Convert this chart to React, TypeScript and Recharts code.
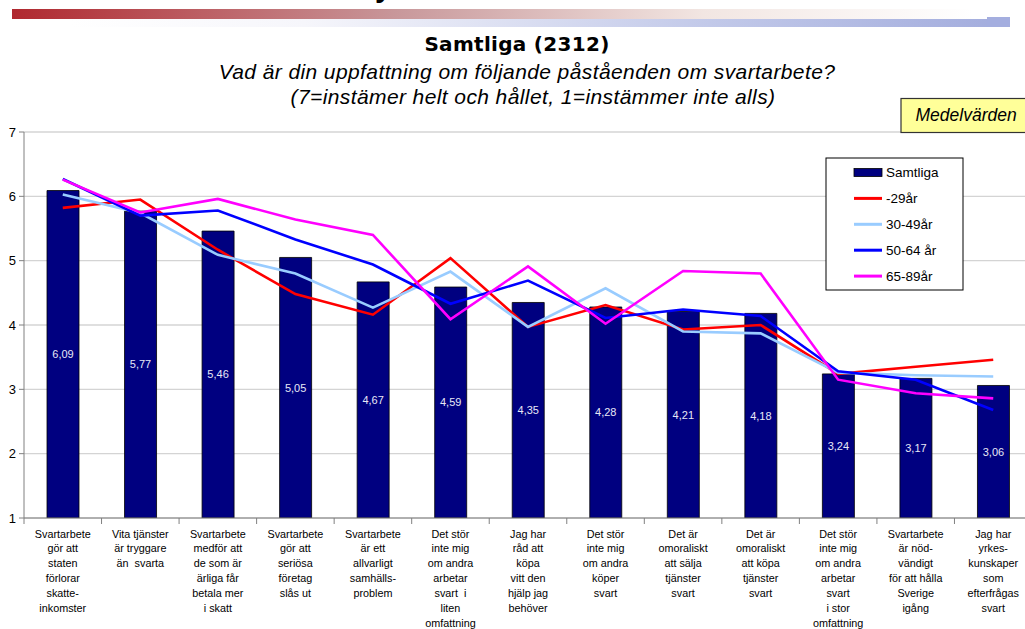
import React from 'react';
import { ComposedChart, Bar, Line, XAxis, YAxis, CartesianGrid, LabelList } from 'recharts';

// ---- data ----
const categories: string[] = [
  'Svartarbete\ngör att\nstaten\nförlorar\nskatte-\ninkomster',
  'Vita tjänster\när tryggare\nän  svarta',
  'Svartarbete\nmedför att\nde som är\närliga får\nbetala mer\ni skatt',
  'Svartarbete\ngör att\nseriösa\nföretag\nslås ut',
  'Svartarbete\när ett\nallvarligt\nsamhälls-\nproblem',
  'Det stör\ninte mig\nom andra\narbetar\nsvart  i\nliten\nomfattning',
  'Jag har\nråd att\nköpa\nvitt den\nhjälp jag\nbehöver',
  'Det stör\ninte mig\nom andra\nköper\nsvart',
  'Det är\nomoraliskt\natt sälja\ntjänster\nsvart',
  'Det är\nomoraliskt\natt köpa\ntjänster\nsvart',
  'Det stör\ninte mig\nom andra\narbetar\nsvart\ni stor\nomfattning',
  'Svartarbete\när nöd-\nvändigt\nför att hålla\nSverige\nigång',
  'Jag har\nyrkes-\nkunskaper\nsom\nefterfrågas\nsvart',
];
const samtliga: number[] = [6.09, 5.77, 5.46, 5.05, 4.67, 4.59, 4.35, 4.28, 4.21, 4.18, 3.24, 3.17, 3.06];
const age29: number[] = [5.82, 5.95, 5.17, 4.48, 4.16, 5.04, 3.97, 4.31, 3.93, 4.0, 3.24, 3.35, 3.46];
const age30_49: number[] = [6.03, 5.74, 5.09, 4.8, 4.27, 4.83, 3.97, 4.57, 3.9, 3.87, 3.26, 3.22, 3.2];
const age50_64: number[] = [6.27, 5.7, 5.78, 5.33, 4.94, 4.33, 4.69, 4.11, 4.24, 4.14, 3.28, 3.15, 2.68];
const age65_89: number[] = [6.26, 5.75, 5.96, 5.64, 5.4, 4.09, 4.91, 4.02, 4.84, 4.8, 3.15, 2.94, 2.86];
const yTicks: number[] = [1, 2, 3, 4, 5, 6, 7];

const seriesNames = ['Samtliga', '-29år', '30-49år', '50-64 år', '65-89år'];
const title = 'Samtliga (2312)';
const subtitle1 = 'Vad är din uppfattning om följande påståenden om svartarbete?';
const subtitle2 = '(7=instämer helt och hållet, 1=instämmer inte alls)';
const boxLabel = 'Medelvärden';

const data = categories.map((c, i) => ({
  cat: c,
  samtliga: samtliga[i],
  a29: age29[i],
  a30: age30_49[i],
  a50: age50_64[i],
  a65: age65_89[i],
}));

// ---- styles ----
const NAVY = '#000080';
const RED = '#FF0000';
const LBLUE = '#99CCFF';
const BLUE = '#0000FF';
const MAGENTA = '#FF00FF';
const AXIS = '#808080';
const GRID = '#D4D4D4';
const FONT = '"Liberation Sans", Arial, sans-serif';
const LINE_W = 2.6;

const XTick = (props: any) => {
  const { x, y, payload, index } = props;
  const off = payload && payload.offset ? payload.offset : 38.8;
  const lines = String(payload.value).split('\n');
  return (
    <g>
      <line x1={x - off} x2={x - off} y1={y} y2={y + 6} stroke={AXIS} strokeWidth={1} />
      {index === categories.length - 1 && (
        <line x1={x + off} x2={x + off} y1={y} y2={y + 6} stroke={AXIS} strokeWidth={1} />
      )}
      <text
        x={x}
        y={y + 19.5}
        textAnchor="middle"
        fontSize={10.8}
        fontFamily={FONT}
        fill="#000"
        style={{ whiteSpace: 'pre' }}
      >
        {lines.map((l, i) => (
          <tspan key={i} x={x} dy={i === 0 ? 0 : 14.9}>
            {l}
          </tspan>
        ))}
      </text>
    </g>
  );
};

const legendItems = [
  { name: seriesNames[0], color: NAVY, bar: true },
  { name: seriesNames[1], color: RED, bar: false },
  { name: seriesNames[2], color: LBLUE, bar: false },
  { name: seriesNames[3], color: BLUE, bar: false },
  { name: seriesNames[4], color: MAGENTA, bar: false },
];

export default function App() {
  return (
    <div
      style={{
        position: 'fixed',
        left: 0,
        top: 0,
        width: 1025,
        height: 629,
        overflow: 'hidden',
        background: '#fff',
        fontFamily: FONT,
      }}
    >
      <div style={{ position: 'absolute', left: 0, top: 0 }}>
        <ComposedChart
          width={1040}
          height={629}
          data={data}
          margin={{ top: 132, right: 8, bottom: 0, left: 0 }}
        >
          <CartesianGrid vertical={false} stroke={GRID} strokeWidth={1.3} />
          <XAxis
            dataKey="cat"
            interval={0}
            height={111}
            tickLine={false}
            tickSize={0}
            tickMargin={0}
            axisLine={{ stroke: AXIS, strokeWidth: 1 }}
            tick={<XTick />}
          />
          <YAxis
            domain={[1, 7]}
            ticks={yTicks}
            width={24}
            tickSize={5}
            tickMargin={3}
            axisLine={{ stroke: AXIS, strokeWidth: 1 }}
            tickLine={{ stroke: AXIS }}
            tick={{ fontSize: 13, fill: '#000', fontFamily: FONT }}
            interval={0}
            allowDataOverflow
          />
          <Bar
            dataKey="samtliga"
            name={seriesNames[0]}
            fill={NAVY}
            stroke="#000"
            strokeWidth={0.8}
            barSize={32}
            isAnimationActive={false}
          >
            <LabelList
              dataKey="samtliga"
              position="center"
              fill="#E8E8F6"
              fontSize={11}
              fontFamily={FONT}
              formatter={(v: any) => Number(v).toFixed(2).replace('.', ',')}
            />
          </Bar>
          <Line dataKey="a29" name={seriesNames[1]} stroke={RED} strokeWidth={LINE_W} dot={false} activeDot={false} type="linear" isAnimationActive={false} />
          <Line dataKey="a30" name={seriesNames[2]} stroke={LBLUE} strokeWidth={LINE_W} dot={false} activeDot={false} type="linear" isAnimationActive={false} />
          <Line dataKey="a50" name={seriesNames[3]} stroke={BLUE} strokeWidth={LINE_W} dot={false} activeDot={false} type="linear" isAnimationActive={false} />
          <Line dataKey="a65" name={seriesNames[4]} stroke={MAGENTA} strokeWidth={LINE_W} dot={false} activeDot={false} type="linear" isAnimationActive={false} />
        </ComposedChart>
      </div>
      <svg
        width={1025}
        height={629}
        style={{ position: 'absolute', left: 0, top: 0, pointerEvents: 'none' }}
      >
        <defs>
          <linearGradient id="gRed" x1="0" x2="1" y1="0" y2="0">
            <stop offset="0" stopColor="#B0282F" />
            <stop offset="0.4" stopColor="#C8979A" />
            <stop offset="0.72" stopColor="#F2E6E2" />
            <stop offset="1" stopColor="#FFFFFF" />
          </linearGradient>
          <linearGradient id="gBlue" x1="0" x2="1" y1="0" y2="0">
            <stop offset="0" stopColor="#FFFFFF" />
            <stop offset="0.25" stopColor="#F6F6FB" />
            <stop offset="0.68" stopColor="#C2C9E9" />
            <stop offset="1" stopColor="#A2ACDD" />
          </linearGradient>
        </defs>
        <text x={375} y={-3.5} fontSize={30} fontWeight="bold" fontFamily={FONT} fill="#000">
          y
        </text>
        <rect x={70} y={19} width={940} height={8} fill="url(#gBlue)" />
        <rect x={12} y={9} width={960} height={10} fill="url(#gRed)" />
        <rect x={987} y={17} width={23} height={10} fill="#A4AEDF" />

        <text
          x={517}
          y={50.5}
          textAnchor="middle"
          fontSize={20}
          fontWeight="bold"
          letterSpacing={0.3}
          fontFamily='"DejaVu Sans", Verdana, sans-serif'
          fill="#000"
        >
          {title}
        </text>
        <text
          x={527}
          y={79.3}
          textAnchor="middle"
          fontSize={21}
          fontStyle="italic"
          letterSpacing={0.4}
          fontFamily={FONT}
          fill="#000"
        >
          {subtitle1}
        </text>
        <text
          x={533}
          y={104}
          textAnchor="middle"
          fontSize={21}
          fontStyle="italic"
          letterSpacing={0.4}
          fontFamily={FONT}
          fill="#000"
        >
          {subtitle2}
        </text>

        <rect x={901} y={98.5} width={140} height={34} fill="#FFFF99" stroke="#333" strokeWidth={1.2} />
        <text x={915.5} y={120.7} fontSize={17.5} fontStyle="italic" fontFamily={FONT} fill="#000">
          {boxLabel}
        </text>

        <rect x={826} y={158} width={137} height={132} fill="#fff" stroke="#000" strokeWidth={1} />
        {legendItems.map((it, i) => {
          const cy = 172.5 + i * 25.9;
          return (
            <g key={it.name}>
              {it.bar ? (
                <rect x={854} y={cy - 4} width={28} height={8} fill={it.color} stroke="#000" strokeWidth={0.8} />
              ) : (
                <line x1={854} x2={882} y1={cy} y2={cy} stroke={it.color} strokeWidth={3} />
              )}
              <text x={886} y={cy + 4.8} fontSize={13.5} fontFamily={FONT} fill="#000">
                {it.name}
              </text>
            </g>
          );
        })}
      </svg>
    </div>
  );
}
